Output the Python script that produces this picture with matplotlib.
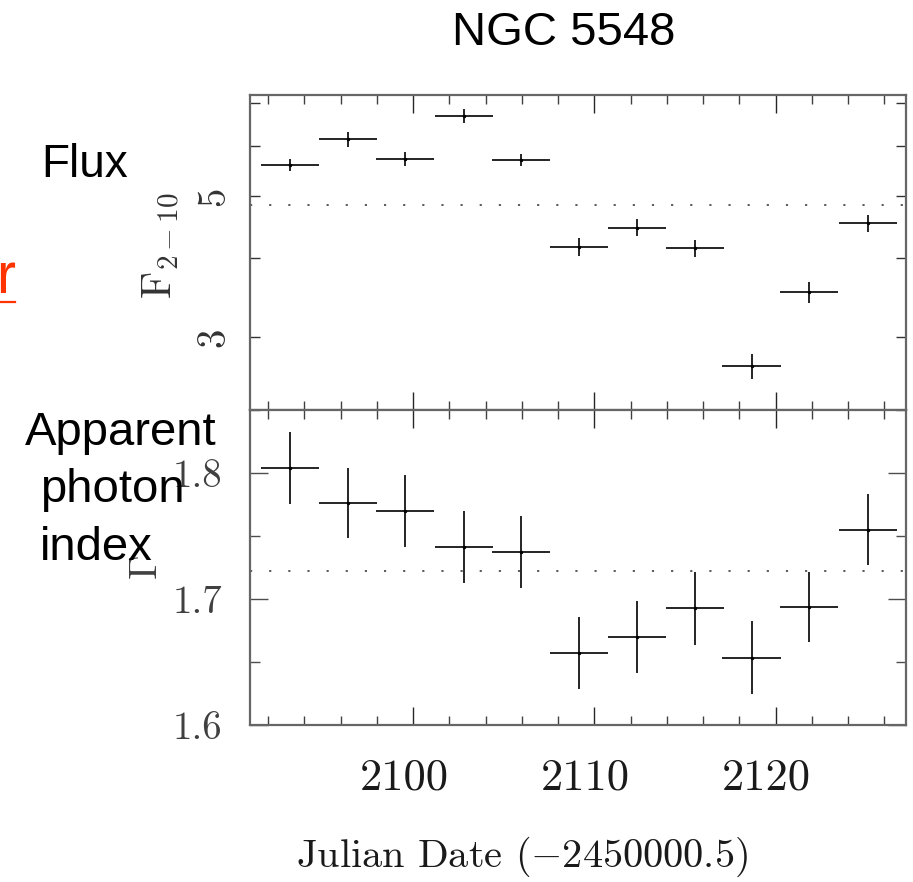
import matplotlib
matplotlib.use('Agg')
import matplotlib.pyplot as plt
from matplotlib.ticker import FixedLocator, MultipleLocator, NullFormatter
import matplotlib.transforms as mtransforms
import numpy as np

# light curve of NGC 5548
t = [2093.19, 2096.39, 2099.58, 2102.80, 2105.96, 2109.18,
     2112.38, 2115.56, 2118.69, 2121.87, 2125.09]
t_half = [1.6, 1.6, 1.6, 1.6, 1.6, 1.6, 1.6, 1.6, 1.62, 1.6, 1.6]
flux = [5.59, 6.14, 5.72, 6.68, 5.70, 4.16, 4.46, 4.14, 2.70, 3.53, 4.53]
flux_err = [0.12, 0.17, 0.155, 0.17, 0.125, 0.135, 0.135, 0.13, 0.12, 0.135, 0.145]
gamma = [1.804, 1.776, 1.770, 1.7415, 1.7375, 1.657, 1.670, 1.6926, 1.6534, 1.694, 1.755]
gamma_err = [0.0284, 0.0276, 0.0286, 0.0286, 0.0286, 0.0287, 0.0287, 0.0288, 0.0288, 0.0278, 0.0282]
flux_mean = 4.84
gamma_mean = 1.7225

xticks = [2100, 2110, 2120]
flux_ticks = [3, 5]
flux_minor = [4, 6, 7]
gamma_ticks = [1.6, 1.7, 1.8]

plt.rcParams['font.family'] = 'cmr10'
plt.rcParams['mathtext.fontset'] = 'cm'
plt.rcParams['axes.formatter.use_mathtext'] = True

W, H = 913, 882
fig = plt.figure(figsize=(W / 100, H / 100), dpi=100)

def px(x, y):
    return x / W, 1 - y / H

L, R = 250, 906
ax1 = fig.add_axes([L / W, 1 - 410 / H, (R - L) / W, 315 / H])
ax2 = fig.add_axes([L / W, 1 - 725 / H, (R - L) / W, 315 / H])

spine_col = '0.4'
dots = (0, (1.2, 9.4))

for ax in (ax1, ax2):
    for s in ax.spines.values():
        s.set_color(spine_col)
        s.set_linewidth(1.6)
    ax.set_xlim(2091.0, 2127.2)
    ax.xaxis.set_major_locator(FixedLocator(xticks))
    ax.xaxis.set_minor_locator(MultipleLocator(2))
    ax.tick_params(axis='x', which='major', direction='in', length=13, width=1.0,
                   top=True, bottom=True, color='0.15')
    ax.tick_params(axis='x', which='minor', direction='in', length=6.5, width=1.0,
                   top=True, bottom=True, color='0.25')

# top: flux
ax1.errorbar(t, flux, xerr=t_half, yerr=flux_err, fmt='o', ms=1.5, color='black',
             elinewidth=1.2, capsize=0)
ax1.axhline(flux_mean, color='0.3', lw=1.3, linestyle=dots)
ax1.set_yscale('log')
ax1.set_ylim(2.303, 7.21)
ax1.yaxis.set_major_locator(FixedLocator(flux_ticks))
ax1.yaxis.set_minor_locator(FixedLocator(flux_minor))
ax1.set_yticklabels([str(v) for v in flux_ticks])
ax1.yaxis.set_minor_formatter(NullFormatter())
ax1.tick_params(axis='y', which='both', direction='in', length=7.5, width=1.0,
                left=True, right=True, color='0.2', labelsize=28, pad=13)
for lab in ax1.get_yticklabels():
    lab.set_rotation(90)
    lab.set_va('center')
    lab.set_color('0.2')
ax1.tick_params(axis='x', labelbottom=False)
ax1.set_ylabel(r'$\mathrm{F}_{2-10}$', fontsize=30, color='0.2')
ax1.yaxis.set_label_coords(-0.104, 0.52)

# bottom: photon index
ax2.errorbar(t, gamma, xerr=t_half, yerr=gamma_err, fmt='o', ms=1.5, color='black',
             elinewidth=1.2, capsize=0)
ax2.axhline(gamma_mean, color='0.3', lw=1.3, linestyle=dots)
ax2.set_ylim(1.6, 1.85)
ax2.yaxis.set_major_locator(FixedLocator(gamma_ticks))
ax2.yaxis.set_minor_locator(MultipleLocator(0.05))
ax2.set_yticklabels(['%.1f' % v for v in gamma_ticks])
ax2.tick_params(axis='y', which='major', direction='in', length=13, width=1.0,
                left=True, right=True, color='0.3', labelsize=28, pad=20)
ax2.tick_params(axis='y', which='minor', direction='in', length=7, width=1.0,
                left=True, right=True, color='0.3')
ax2.tick_params(axis='x', which='major', labelsize=32, pad=24)
ax2.set_xticklabels([str(v) for v in xticks])
shift = mtransforms.ScaledTranslation(-9 / 100, 0, fig.dpi_scale_trans)
for lab in ax2.get_xticklabels():
    lab.set_transform(lab.get_transform() + shift)
    lab.set_color('0.1')
for lab in ax2.get_yticklabels():
    lab.set_color('0.25')
ax2.set_ylabel(r'$\Gamma$', fontsize=28, color='0.25')
ax2.yaxis.set_label_coords(-0.13, 0.5)

fig.text(*px(522, 857), r'Julian Date ($-$2450000.5)', fontsize=29,
         ha='center', va='center', color='0.1')

# slide annotations
sans = 'Liberation Sans'
fig.text(*px(564, 45), 'NGC 5548', fontsize=34, family=sans, ha='center', va='baseline')
fig.text(*px(41, 177), 'Flux', fontsize=33, family=sans, ha='left', va='baseline')
fig.text(*px(25, 445), 'Apparent', fontsize=34, family=sans, ha='left', va='baseline')
fig.text(*px(40, 502), 'photon', fontsize=34, family=sans, ha='left', va='baseline')
fig.text(*px(40, 560), 'index', fontsize=34, family=sans, ha='left', va='baseline')
fig.text(*px(-4, 293), 'r', fontsize=41, family=sans, ha='left', va='baseline',
         color='#ff3300')
fig.add_artist(plt.Line2D([0, 15 / W], [1 - 301.5 / H] * 2, color='#ff3300', lw=1.6))

fig.savefig('out.png', dpi=100)
